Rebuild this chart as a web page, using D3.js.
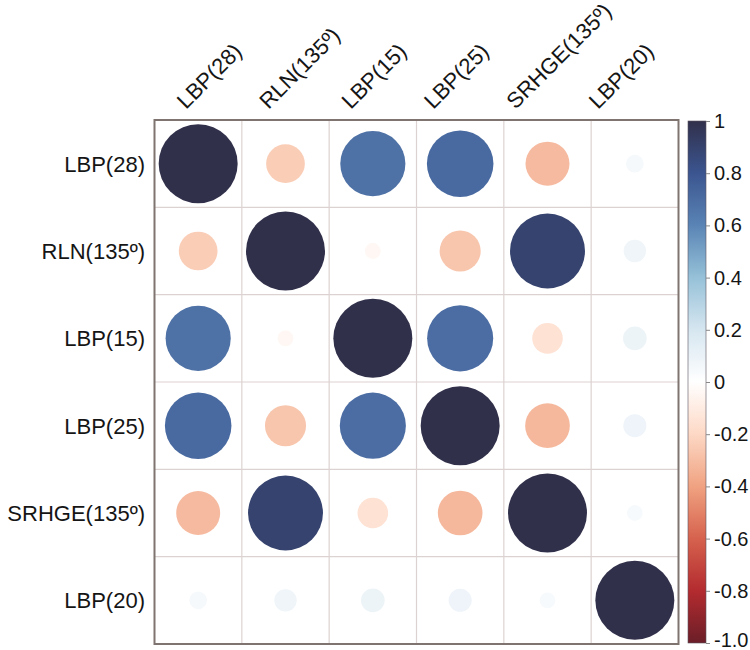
<!DOCTYPE html>
<html>
<head>
<meta charset="utf-8">
<script src="https://cdn.jsdelivr.net/npm/d3@7"></script>
<style>
  html, body { margin: 0; padding: 0; background: #ffffff; }
  svg { display: block; }
  text { font-family: "Liberation Sans", Arial, sans-serif; fill: #151515; }
</style>
</head>
<body>
<svg id="chart" width="750" height="650"></svg>
<script>
// ---- data ----
const variables = ["LBP(28)", "RLN(135º)", "LBP(15)", "LBP(25)", "SRHGE(135º)", "LBP(20)"];
const rowLBP28  = [1.00, -0.24,  0.68,  0.71, -0.31, 0.05];
const rowRLN    = [-0.24, 1.00, -0.04, -0.27,  0.90, 0.08];
const rowLBP15  = [0.68, -0.04,  1.00,  0.70, -0.15, 0.09];
const rowLBP25  = [0.71, -0.27,  0.70,  1.00, -0.32, 0.085];
const rowSRHGE  = [-0.31, 0.90, -0.15, -0.32,  1.00, 0.04];
const rowLBP20  = [0.05,  0.08,  0.09,  0.085, 0.04, 1.00];
const matrixRows = [rowLBP28, rowRLN, rowLBP15, rowLBP25, rowSRHGE, rowLBP20];
const colorbarTicks = [1, 0.8, 0.6, 0.4, 0.2, 0, -0.2, -0.4, -0.6, -0.8, -1];
const colorbarTickLabels = ["1", "0.8", "0.6", "0.4", "0.2", "0", "-0.2", "-0.4", "-0.6", "-0.8", "-1.0"];
const colorStops = [-1, -0.8, -0.6, -0.4, -0.2, 0, 0.2, 0.4, 0.6, 0.8, 1];
const colorValues = ["#6b1e28", "#b32b2f", "#d6624e", "#f0a281", "#fdd8c5", "#ffffff",
                     "#d6e6f0", "#96c1d8", "#5a84b5", "#3b5590", "#31304b"];

// ---- build cells ----
const cells = [];
matrixRows.forEach((row, i) => row.forEach((v, j) => cells.push({r: variables[i], c: variables[j], v})));

const svg = d3.select("#chart");

const x = d3.scaleBand().domain(variables).range([154.5, 678.5]);
const y = d3.scaleBand().domain(variables).range([120, 644]);
const rad = d3.scaleSqrt().domain([0, 1]).range([0, 39.5]);
const color = d3.scaleLinear().domain(colorStops).range(colorValues).interpolate(d3.interpolateRgb);
const xLabel = d3.scalePoint().domain(variables).range([186, 598]);

// grid lines
const grid = svg.append("g");
variables.slice(1).forEach(v => {
  grid.append("line").attr("x1", x(v)).attr("x2", x(v)).attr("y1", 120).attr("y2", 644)
    .attr("stroke", "#ddd2d2").attr("stroke-width", 1.2);
  grid.append("line").attr("y1", y(v)).attr("y2", y(v)).attr("x1", 154.5).attr("x2", 678.5)
    .attr("stroke", "#ddd2d2").attr("stroke-width", 1.2);
});

// circles
svg.append("g").selectAll("circle").data(cells).join("circle")
  .attr("cx", d => x(d.c) + x.bandwidth() / 2)
  .attr("cy", d => y(d.r) + y.bandwidth() / 2)
  .attr("r", d => rad(Math.abs(d.v)))
  .attr("fill", d => color(d.v));

// outer box
svg.append("rect").attr("x", 154.5).attr("y", 120).attr("width", 524).attr("height", 524)
  .attr("fill", "none").attr("stroke", "#7f7470").attr("stroke-width", 2);

// row labels
svg.append("g").selectAll("text").data(variables).join("text")
  .attr("x", 145)
  .attr("y", d => y(d) + y.bandwidth() / 2 + 8)
  .attr("text-anchor", "end")
  .attr("font-size", 22)
  .text(d => d);

// column labels
svg.append("g").selectAll("text").data(variables).join("text")
  .attr("transform", d => `translate(${xLabel(d)},110) rotate(-45)`)
  .attr("text-anchor", "start")
  .attr("font-size", 22)
  .text(d => d);

// colorbar
const cb = d3.scaleLinear().domain([-1, 1]).range([643, 121]);
const defs = svg.append("defs");
const grad = defs.append("linearGradient").attr("id", "cbgrad")
  .attr("x1", 0).attr("y1", 1).attr("x2", 0).attr("y2", 0);
colorStops.forEach((s, i) => grad.append("stop")
  .attr("offset", ((s + 1) / 2 * 100) + "%").attr("stop-color", colorValues[i]));
svg.append("rect").attr("x", 688).attr("y", 121).attr("width", 18).attr("height", 522)
  .attr("fill", "url(#cbgrad)").attr("stroke", "#5a5560").attr("stroke-width", 0.6);

const cbAxis = d3.axisRight(cb).tickValues(colorbarTicks)
  .tickFormat((d, i) => colorbarTickLabels[i]).tickSize(4).tickPadding(4);
const cbg = svg.append("g").attr("transform", "translate(706,0)").call(cbAxis);
cbg.select(".domain").remove();
cbg.selectAll(".tick line").attr("stroke", "#888");
cbg.selectAll(".tick text").attr("font-size", 20).attr("fill", "#151515")
  .style("font-family", "'Liberation Sans', Arial, sans-serif")
  .attr("dy", d => d === -1 ? "0.15em" : "0.32em");
</script>
</body>
</html>
